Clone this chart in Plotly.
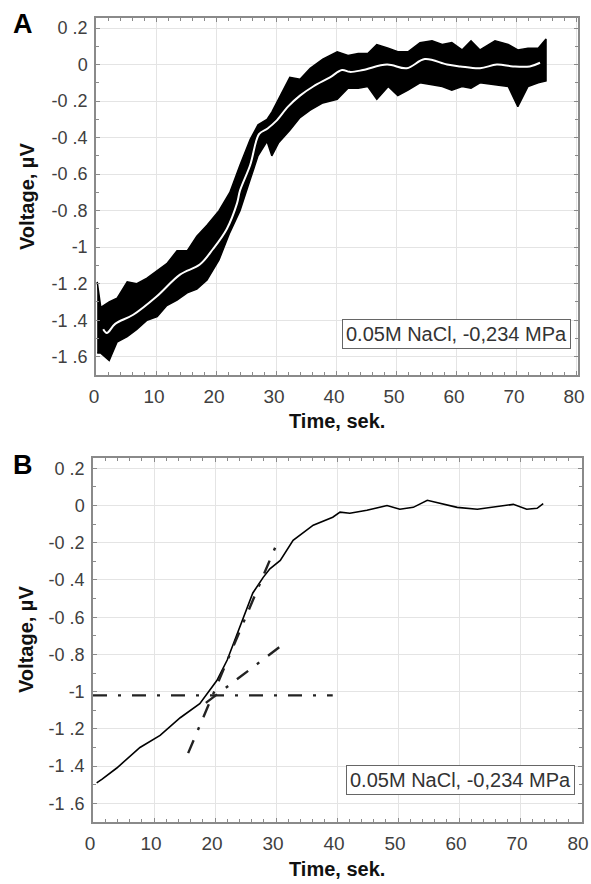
import plotly.graph_objects as go

# ---------------- Panel A: noisy record (envelope) + smoothed line
noise_t = [0.2, 0.8, 2.2, 3.5, 5.2, 6.8, 8.5, 10.2, 11.8, 13.5, 15.2, 16.8, 18.5, 20.5,
           22.3, 24.0, 25.7, 27.0, 28.5, 29.3, 30.4, 32.3, 34.0, 35.7, 37.8, 40.2, 42.0, 43.7,
           45.3, 46.8, 48.7, 50.3, 52.0, 54.0, 56.0, 57.7, 59.3, 61.0, 62.5, 64.0, 66.5,
           68.7, 70.3, 72.0, 73.7, 75.0]
noise_upper = [-1.19, -1.33, -1.30, -1.28, -1.19, -1.20, -1.17, -1.13, -1.09, -1.02, -1.02,
               -0.94, -0.88, -0.80, -0.70, -0.55, -0.41, -0.33, -0.30, -0.26, -0.19, -0.07, -0.08,
               -0.02, 0.03, 0.07, 0.05, 0.06, 0.06, 0.11, 0.09, 0.07, 0.07, 0.12, 0.13, 0.11,
               0.12, 0.08, 0.13, 0.08, 0.13, 0.11, 0.08, 0.09, 0.09, 0.14]
noise_lower = [-1.58, -1.58, -1.62, -1.52, -1.49, -1.45, -1.40, -1.38, -1.32, -1.29, -1.25,
               -1.23, -1.18, -1.07, -0.92, -0.80, -0.63, -0.50, -0.42, -0.50, -0.43, -0.36, -0.29,
               -0.25, -0.21, -0.19, -0.13, -0.13, -0.12, -0.19, -0.12, -0.17, -0.14, -0.10,
               -0.11, -0.12, -0.14, -0.12, -0.13, -0.10, -0.11, -0.12, -0.23, -0.12, -0.10,
               -0.09]

smooth_t = [1.2, 1.8, 3.2, 6.2, 10.1, 14.0, 17.3, 19.5, 21.8, 23.5, 24.0, 25.7, 27.2, 28.6,
            30.0, 32.0, 34.0, 36.2, 39.0, 41.0, 42.3, 44.5, 48.5, 51.8, 54.8, 58.5, 60.7,
            64.0, 66.8, 69.5, 72.3, 74.0]
smooth_v = [-1.45, -1.47, -1.42, -1.37, -1.27, -1.15, -1.095, -1.01, -0.90, -0.76, -0.69,
            -0.55, -0.38, -0.35, -0.31, -0.23, -0.17, -0.12, -0.07, -0.03, -0.04, -0.03,
            0.0, -0.02, 0.03, 0.0, -0.01, -0.02, 0.0, -0.01, -0.01, 0.01]

# ---------------- Panel B: smoothed curve + tangent lines
curve_t = [0.6, 1.5, 3.9, 7.7, 11.0, 14.3, 17.5, 18.7, 20.3, 22.0, 24.1, 26.2, 27.9, 29.0,
           30.7, 32.8, 36.1, 39.3, 40.5, 42.1, 44.9, 48.2, 50.3, 52.5, 54.8, 56.9, 59.7,
           63.0, 65.6, 68.9, 71.1, 72.8, 73.8]
curve_v = [-1.49, -1.47, -1.41, -1.30, -1.235, -1.14, -1.065, -1.01, -0.94, -0.83, -0.655,
           -0.47, -0.386, -0.34, -0.295, -0.187, -0.106, -0.063, -0.036, -0.042, -0.026,
           0.0, -0.02, -0.01, 0.028, 0.01, -0.01, -0.02, -0.01, 0.006, -0.02, -0.015, 0.01]

hline_t = [0.0, 39.3]
hline_v = [-1.02, -1.02]
steep_t = [15.6, 30.2]
steep_v = [-1.33, -0.20]
shallow_t = [18.5, 31.0]
shallow_v = [-1.06, -0.75]

x_ticks = [0, 10, 20, 30, 40, 50, 60, 70, 80]
y_ticks = [-1.6, -1.4, -1.2, -1.0, -0.8, -0.6, -0.4, -0.2, 0.0, 0.2]
y_ticktext = ["-1 .6", "-1 .4", "-1 .2", "-1", "-0 .8", "-0 .6", "-0 .4", "-0 .2", "0", "0 .2"]
legend_text = "0.05M NaCl, -0,234 MPa"
x_title = "Time, sek."
y_title = "Voltage, µV"

# Page body margin is removed in post_script, so layout is in reference-pixel coordinates.
W, H = 591, 884
FONT = "Liberation Sans, Arial, sans-serif"
DASHDOT = "14px,11px,3px,11px"


def PX(X):
    return X / W


def PY(Y):
    return 1 - Y / H


fig = go.Figure()

# Panel A
fig.add_trace(go.Scatter(
    x=noise_t + noise_t[::-1], y=noise_upper + noise_lower[::-1],
    mode="lines", fill="toself", fillcolor="black",
    line=dict(color="black", width=1.5), xaxis="x", yaxis="y",
    hoverinfo="skip", showlegend=False))
fig.add_trace(go.Scatter(
    x=smooth_t, y=smooth_v, mode="lines", line=dict(color="white", width=2, shape="spline"),
    xaxis="x", yaxis="y", showlegend=False))

# Panel B
fig.add_trace(go.Scatter(
    x=curve_t, y=curve_v, mode="lines", line=dict(color="black", width=1.6),
    xaxis="x2", yaxis="y2", showlegend=False))
for tt, vv in [(hline_t, hline_v), (steep_t, steep_v), (shallow_t, shallow_v)]:
    fig.add_trace(go.Scatter(
        x=tt, y=vv, mode="lines", line=dict(color="#222222", width=2.4, dash=DASHDOT),
        xaxis="x2", yaxis="y2", showlegend=False))


def xax(domain, rng, anchor, shift=0):
    return dict(domain=domain, range=rng, anchor=anchor, tickvals=x_ticks,
                showgrid=True, gridcolor="#e4e4e4", gridwidth=1,
                showline=True, linecolor="#8a8a8a", linewidth=1.5, mirror="allticks",
                ticks="inside", ticklen=4, tickcolor="#8a8a8a", zeroline=False,
                minor=dict(dtick=2, ticks="inside", ticklen=3, tickcolor="#8a8a8a", showgrid=False),
                tickfont=dict(family=FONT, size=19, color="#404040"),
                ticklabelstandoff=3, automargin=False, ticklabeloverflow="allow",
                ticklabelshift=shift)


def yax(domain, rng, anchor):
    return dict(domain=domain, range=rng, anchor=anchor, tickvals=y_ticks, ticktext=y_ticktext,
                showgrid=True, gridcolor="#e4e4e4", gridwidth=1,
                showline=True, linecolor="#8a8a8a", linewidth=1.5, mirror="allticks",
                ticks="inside", ticklen=4, tickcolor="#8a8a8a", zeroline=False,
                minor=dict(dtick=0.1, tick0=0, ticks="inside", ticklen=3, tickcolor="#8a8a8a", showgrid=False),
                tickfont=dict(family=FONT, size=18, color="#404040"),
                ticklabelstandoff=3, automargin=False, ticklabeloverflow="allow")


annotations = []
# axis titles
for (cx, cy) in [(337, 421), (337, 869)]:
    annotations.append(dict(text=f"<b>{x_title}</b>", xref="paper", yref="paper",
                            x=PX(cx), y=PY(cy), xanchor="center", yanchor="middle",
                            showarrow=False, font=dict(family=FONT, size=20, color="#111111")))
for (cx, cy) in [(27, 197), (26, 640)]:
    annotations.append(dict(text=f"<b>{y_title}</b>", xref="paper", yref="paper",
                            x=PX(cx), y=PY(cy), xanchor="center", yanchor="middle",
                            textangle=-90, showarrow=False,
                            font=dict(family=FONT, size=20, color="#111111")))
# panel letters
for (lab, cx, cy) in [("A", 23, 24), ("B", 23, 465)]:
    annotations.append(dict(text=f"<b>{lab}</b>", xref="paper", yref="paper",
                            x=PX(cx), y=PY(cy), xanchor="center", yanchor="middle",
                            showarrow=False, font=dict(family=FONT, size=27, color="black")))
# legend boxes
for (rx, cy) in [(571, 334), (575, 779.5)]:
    annotations.append(dict(text=legend_text, xref="paper", yref="paper",
                            x=PX(rx), y=PY(cy), xanchor="right", yanchor="middle",
                            showarrow=False, bordercolor="#666666", borderwidth=1, borderpad=3,
                            bgcolor="white", font=dict(family=FONT, size=20, color="#333333")))

fig.update_layout(
    width=W, height=H, margin=dict(l=0, r=0, t=0, b=0, autoexpand=False),
    paper_bgcolor="white", plot_bgcolor="white", showlegend=False,
    xaxis=xax([PX(96), PX(578)], [0, 80.33], "y", shift=-2),
    yaxis=yax([PY(375), PY(18)], [-1.70, 0.255], "x"),
    xaxis2=xax([PX(93), PX(582)], [0, 80.16], "y2", shift=-3),
    yaxis2=yax([PY(822), PY(458)], [-1.70, 0.255], "x2"),
    annotations=annotations,
)

fig.write_html(
    "out.html",
    config={"displayModeBar": False},
    post_script="document.body.style.margin='0';document.body.style.overflow='hidden';",
)
